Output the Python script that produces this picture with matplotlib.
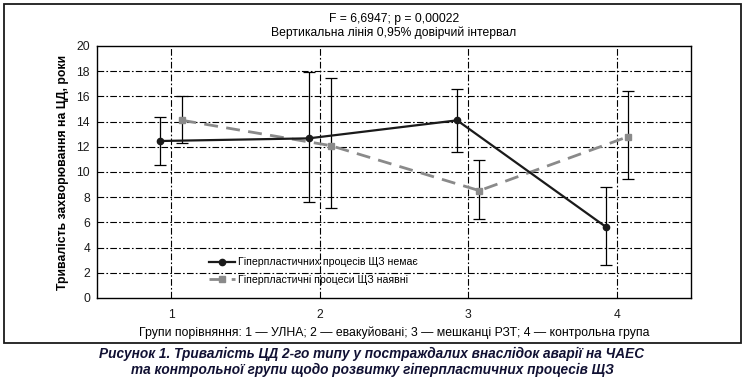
import matplotlib
matplotlib.use('Agg')
import matplotlib.pyplot as plt
from matplotlib.patches import Rectangle

plt.rcParams['font.family'] = ['Liberation Sans', 'DejaVu Sans']

# --- Data ---
groups = [1, 2, 3, 4]
no_hyper_mean = [12.46, 12.67, 14.10, 5.66]
no_hyper_low = [10.56, 7.59, 11.61, 2.59]
no_hyper_high = [14.34, 17.96, 16.61, 8.78]
hyper_mean = [14.10, 12.09, 8.52, 12.80]
hyper_low = [12.27, 7.12, 6.27, 9.42]
hyper_high = [16.06, 17.43, 10.98, 16.43]
labels = ["Гіперпластичних процесів ЩЗ немає", "Гіперпластичні процеси ЩЗ наявні"]
OFFSET = 0.075

fig = plt.figure(figsize=(7.47, 3.83), dpi=100, facecolor='white')
ax = fig.add_axes([97 / 747, 85 / 383, 594 / 747, 252 / 383])

# outer frame
fig.patches.append(Rectangle((4 / 747, 40 / 383), 737 / 747, 339 / 383, transform=fig.transFigure,
                             fill=False, edgecolor='#1a1a1a', lw=1.3))

# grid
for gy in range(2, 20, 2):
    ax.axhline(gy, color='black', lw=0.8, linestyle=(0, (6, 2, 1.5, 2)), zorder=1)
for gx in groups:
    ax.axvline(gx, color='black', lw=0.8, linestyle=(0, (6, 2, 1.5, 2)), zorder=1)

x1 = [g - OFFSET for g in groups]
x2 = [g + OFFSET for g in groups]
err1 = [[m - lo for m, lo in zip(no_hyper_mean, no_hyper_low)], [hi - m for m, hi in zip(no_hyper_mean, no_hyper_high)]]
err2 = [[m - lo for m, lo in zip(hyper_mean, hyper_low)], [hi - m for m, hi in zip(hyper_mean, hyper_high)]]

ax.errorbar(x1, no_hyper_mean, yerr=err1, fmt='none', ecolor='black', elinewidth=0.9, capsize=4, capthick=0.9, zorder=2)
ax.errorbar(x2, hyper_mean, yerr=err2, fmt='none', ecolor='black', elinewidth=0.9, capsize=4, capthick=0.9, zorder=2)
ax.plot(x1, no_hyper_mean, '-o', color='#1a1a1a', lw=1.6, markersize=4.5, label=labels[0], zorder=4)
ax.plot(x2, hyper_mean, '--s', color='#8a8a8a', lw=2.0, dashes=(5, 3), markersize=4, label=labels[1], zorder=3)

ax.set_xlim(0.5, 4.5)
ax.set_ylim(0, 20)
ax.set_xticks(groups)
ax.set_yticks(range(0, 21, 2))
ax.tick_params(length=0, labelsize=8.7, colors='#1a1a1a')
ax.tick_params(axis='y', pad=5)
ax.tick_params(axis='x', pad=8)
for s in ax.spines.values():
    s.set_linewidth(1.0)

ax.set_ylabel("Тривалість захворювання на ЦД, роки", fontsize=8.8, fontweight='bold', labelpad=5)
ax.set_xlabel("Групи порівняння: 1 — УЛНА; 2 — евакуйовані; 3 — мешканці РЗТ; 4 — контрольна група",
              fontsize=8.8, labelpad=4)
ax.set_title("F = 6,6947; p = 0,00022\nВертикальна лінія 0,95% довірчий інтервал", fontsize=8.7, pad=7,
             linespacing=1.2)

ax.legend(loc='lower left', bbox_to_anchor=(0.18, 0.03), frameon=False, fontsize=7.6,
          handlelength=2.4, handletextpad=0.3, borderpad=0, labelspacing=0.75)

fig.text(0.498, 0.076, "Рисунок 1. Тривалість ЦД 2-го типу у постраждалих внаслідок аварії на ЧАЕС",
         ha='center', va='center', fontsize=9.8, fontweight='bold', style='italic', color='#111133')
fig.text(0.498, 0.035, "та контрольної групи щодо розвитку гіперпластичних процесів ЩЗ",
         ha='center', va='center', fontsize=9.8, fontweight='bold', style='italic', color='#111133')

fig.savefig('out.png', dpi=100)
